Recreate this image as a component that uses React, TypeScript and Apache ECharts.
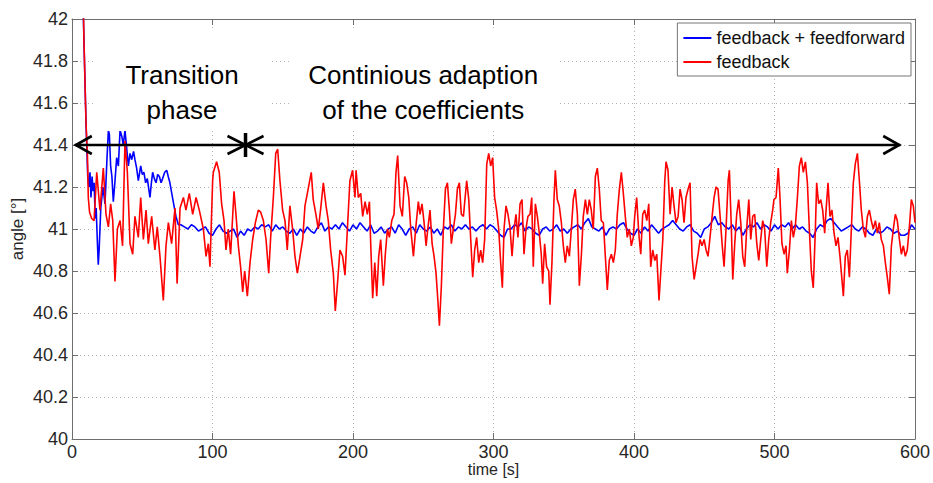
import React, { useEffect, useRef } from "react";
import * as echarts from "echarts";

// ---- data (time [s], angle [°]) ----
const feedbackData: [number, number][] = [
  [7.5, 42.3], [8.5, 41.9], [10, 41.5], [11, 41.35], [11.6, 41.15], [12.5, 41.08], [14, 41.05], [15.7, 41.04],
  [17.6, 41.27], [19.9, 41.09], [22.3, 41.29], [24.2, 41.07], [25.9, 41.01], [27.5, 41.12], [29, 41.04], [30.6, 40.75],
  [32.3, 41.0], [34.2, 41.04], [36, 40.92], [37.7, 41.42], [39.4, 41.27], [41.3, 40.93], [43.2, 40.88], [44.8, 41.06],
  [47.2, 40.96], [48.9, 41.15], [50.8, 40.95], [52.7, 41.09], [54.3, 40.93], [56.7, 41.06], [59, 40.9], [60.7, 41.01],
  [62.6, 40.87], [65, 40.66], [66.9, 40.92], [68.6, 41.03], [70.9, 40.93], [73.3, 41.1], [74.8, 40.74], [76.9, 41.1],
  [79.3, 41.15], [81.1, 41.09], [83.5, 41.17], [85.9, 41.07], [88.3, 41.15], [90.6, 41.09], [93.5, 41.0], [95.4, 40.87],
  [97, 40.93], [98.2, 40.82], [100.1, 41.23], [100.6, 41.27], [102.9, 41.32], [104.8, 41.27], [106.5, 41.12], [108.2, 41.04],
  [109.6, 40.9], [111.2, 41.0], [112.9, 40.88], [115.3, 41.18], [116.7, 41.07], [118.4, 40.92], [120, 40.82], [121.5, 40.7],
  [122.9, 40.8], [124.8, 40.68], [126.7, 40.84], [128.6, 40.95], [130.5, 41.03], [132.6, 41.09], [134.3, 41.08], [136.2, 41.04],
  [138.1, 40.95], [140, 40.79], [141.4, 40.96], [143.3, 41.15], [145, 41.36], [146.4, 41.38], [148, 41.23], [149.9, 41.09],
  [151.6, 41.04], [153.2, 40.9], [155.1, 41.11], [157, 41.0], [158.7, 40.87], [160.4, 40.79], [162.3, 40.87], [164.2, 40.95],
  [165.8, 41.11], [167.5, 41.17], [168.9, 41.22], [170.3, 41.27], [171.7, 41.14], [173.6, 41.07], [175.3, 41.0], [176.9, 41.09],
  [178.9, 41.22], [180.8, 41.11], [182.4, 41.04], [184.1, 40.9], [186, 40.79], [187.4, 40.61], [189.3, 40.77], [190.7, 40.9],
  [192.6, 40.87], [194.3, 40.78], [196, 41.0], [197.8, 41.23], [199.7, 41.28], [201.4, 41.15], [202.2, 41.28], [203.8, 41.15],
  [205.5, 41.17], [206.9, 41.06], [208.6, 41.13], [210.2, 41.07], [211.7, 41.13], [212.6, 40.93], [214, 40.67], [215.5, 40.84],
  [216.9, 40.68], [218.3, 40.87], [219.7, 40.95], [221.6, 40.73], [223, 40.88], [224.5, 41.0], [225.9, 40.96], [227.6, 41.04],
  [229.2, 41.07], [230.6, 41.27], [231.8, 41.35], [233.5, 41.11], [235.1, 41.06], [236.8, 41.25], [238.2, 41.22], [239.7, 41.15],
  [241.1, 41.0], [243, 40.87], [244.6, 41.0], [246.5, 41.13], [247.7, 41.07], [249.1, 41.12], [250.6, 41.03], [252, 40.92],
  [253.4, 41.01], [254.8, 41.09], [256.3, 40.93], [257.7, 40.87], [259.1, 40.79], [260.5, 40.65], [261.5, 40.54], [262.9, 40.73],
  [264.3, 41.0], [265.8, 41.19], [267.2, 41.22], [268.6, 41.09], [270, 40.93], [271.4, 41.0], [272.9, 41.07], [274.3, 41.19],
  [275.7, 41.22], [277.1, 41.07], [278.6, 41.06], [279.8, 41.15], [280.9, 41.23], [282.4, 41.14], [283.8, 40.95], [285.2, 40.77],
  [286.6, 40.9], [288, 40.96], [289.5, 40.84], [290.9, 40.9], [292.3, 40.84], [293.7, 40.95], [295.2, 41.31], [296.6, 41.36],
  [298, 41.3], [299.4, 41.34], [300.8, 41.15], [302.2, 41.09], [303.7, 41.0], [305.1, 40.84], [306.3, 40.72], [307.5, 41.0],
  [308.9, 41.11], [310.3, 41.07], [311.7, 41.01], [313.2, 40.87], [314.6, 41.0], [316, 41.07], [317.4, 40.96], [318.9, 41.12],
  [320.3, 41.14], [321.7, 40.88], [323.1, 41.0], [324.5, 41.06], [326, 41.07], [327.2, 41.15], [328.3, 40.82], [329.8, 41.12],
  [331.2, 41.06], [332.6, 40.98], [334, 40.88], [335, 40.74], [336.4, 40.93], [337.8, 40.82], [339.3, 40.8], [340.2, 40.64],
  [341.6, 40.84], [343.1, 41.15], [344, 41.28], [345.4, 41.14], [346.8, 41.11], [348.3, 41.03], [349.7, 40.92], [351.1, 40.84],
  [352.5, 40.92], [354, 40.87], [355.4, 41.0], [356.8, 41.14], [358.2, 41.19], [359.7, 41.07], [361.1, 40.73], [362.5, 40.87],
  [363.9, 41.06], [365.4, 41.14], [366.8, 41.07], [368.2, 41.14], [369.6, 41.09], [371, 41.0], [372.5, 41.25], [373.9, 41.29],
  [375.3, 41.19], [376.7, 41.04], [378.2, 41.03], [379.6, 40.87], [381, 40.71], [382.4, 40.85], [383.9, 40.88], [385.3, 40.84],
  [386.7, 40.9], [388.1, 41.07], [389.6, 41.19], [391, 41.27], [392.4, 41.17], [393.8, 41.06], [395.2, 40.96], [396.7, 41.0],
  [398.1, 40.92], [399.5, 40.96], [400.5, 41.06], [401.9, 41.15], [403.4, 40.98], [404.8, 40.88], [406.2, 41.07], [407.6, 41.09],
  [409.1, 41.04], [410.5, 41.12], [411.9, 40.82], [413.3, 40.9], [414.8, 40.85], [416.2, 40.88], [417.8, 40.66], [419, 40.79],
  [420.5, 40.95], [421.9, 41.23], [422.8, 41.32], [424.2, 41.28], [425.7, 41.07], [427.1, 41.2], [428.5, 41.11], [429.9, 41.03],
  [431.4, 41.06], [432.8, 41.19], [434.2, 41.14], [435.6, 41.03], [437, 41.15], [438.5, 41.19], [439.9, 41.22], [441.3, 40.87],
  [442.8, 40.76], [444.2, 40.82], [445.6, 40.88], [447, 40.95], [448.4, 40.92], [449.9, 40.95], [451.3, 40.9], [452.7, 40.87],
  [454.1, 40.96], [455.6, 41.06], [457, 41.15], [458.4, 41.2], [459.8, 41.19], [461.3, 41.06], [462.7, 40.93], [464.1, 40.82],
  [465.5, 41.0], [467, 41.23], [467.9, 41.28], [469.3, 41.0], [470.3, 40.76], [471.7, 40.93], [473.1, 41.07], [474.5, 41.14],
  [476, 41.03], [477.4, 40.87], [478.8, 40.82], [480.2, 41.0], [481.7, 41.14], [483.1, 40.95], [484.5, 41.06], [485.9, 41.07],
  [487.4, 40.93], [488.8, 40.85], [490.2, 40.95], [491.6, 41.04], [493, 41.0], [494.5, 40.82], [495.9, 40.95], [497.3, 41.03],
  [498.7, 41.09], [499.6, 41.14], [501.1, 41.15], [502.7, 41.29], [503.9, 41.15], [505.3, 40.93], [506.8, 40.88], [508.2, 40.92],
  [509.1, 40.79], [510.6, 40.9], [512, 41.04], [513.4, 40.96], [514.8, 41.01], [516.3, 41.15], [517.7, 41.3], [519.1, 41.34],
  [520.5, 41.27], [522, 41.32], [523.4, 41.22], [524.8, 41.0], [526.2, 40.8], [527.6, 40.72], [529.1, 41.0], [530, 41.22],
  [531.4, 41.12], [532.9, 41.14], [534.3, 41.09], [535.7, 40.98], [536.7, 41.09], [538.1, 41.22], [539.5, 41.06], [540.9, 41.09],
  [542.4, 40.98], [543.8, 40.92], [545.2, 40.96], [546.6, 40.87], [548, 40.76], [549, 40.68], [550.4, 40.87], [551.8, 40.9],
  [553.3, 40.77], [554.7, 41.0], [556.1, 41.22], [557.5, 41.31], [559, 41.36], [560.4, 41.23], [561.8, 41.09], [563.2, 41.0],
  [564.7, 40.96], [566.1, 41.06], [567.5, 41.09], [568.9, 41.04], [570.3, 41.0], [571.8, 41.04], [573.2, 40.98], [574.6, 41.03],
  [576, 40.95], [577.5, 40.92], [578.9, 40.84], [580.3, 40.77], [581.7, 40.69], [583.2, 40.92], [584.6, 41.0], [586, 41.07],
  [587.4, 41.04], [588.9, 40.95], [590.3, 40.88], [591.7, 40.92], [593.1, 40.87], [594.5, 40.9], [596, 41.01], [597.4, 41.14],
  [598.8, 41.11], [600, 41.03],
];

const feedforwardTransition: [number, number][] = [
  [7, 42.3], [8.5, 41.9], [10, 41.5], [11.2, 41.25], [12, 41.2], [12.8, 41.27], [13.5, 41.15], [14.3, 41.25],
  [15, 41.18], [15.8, 41.22], [16.5, 41.05], [17.2, 41.1], [18, 40.95], [18.7, 40.83], [19.3, 40.9], [20.5, 41.1],
  [22, 41.2], [23.5, 41.12], [25, 41.35], [25.9, 41.47], [26.6, 41.45], [27.5, 41.3], [28.4, 41.25], [29.4, 41.13],
  [30.5, 41.22], [31.8, 41.34], [33, 41.3], [34.2, 41.47], [35.5, 41.44], [36.5, 41.4], [37.7, 41.47], [39, 41.38],
  [40.1, 41.3], [41.3, 41.36], [42.5, 41.33], [43.8, 41.37], [44.8, 41.33], [46, 41.29], [47.2, 41.23], [48.9, 41.3],
  [50, 41.26], [51.2, 41.27], [52.4, 41.22], [53.6, 41.24], [55.5, 41.15], [56.5, 41.22], [57.4, 41.27], [58.6, 41.24],
  [59.8, 41.22], [61, 41.26], [62.2, 41.25], [63.4, 41.22], [64.5, 41.24], [66, 41.27], [67.4, 41.28], [68.5, 41.25],
  [69.7, 41.22], [71, 41.17], [72.6, 41.11], [74, 41.06], [75.7, 41.02],
];

const feedforwardSteady: [number, number][] = [
  [77.5, 41.02], [80, 41.01], [82.5, 41.0], [85, 41.02], [87.5, 41.01], [90, 40.99], [92.5, 41.0], [95, 41.01], [97.5, 40.98], [100, 40.97],
  [102.5, 41.0], [105, 41.02], [107.5, 40.99], [110, 40.98], [112.5, 40.99], [115, 41.0], [117.5, 40.96], [120, 40.99], [122.5, 40.97], [125, 41.0],
  [127.5, 40.99], [130, 41.01], [132.5, 41.0], [135, 41.02], [137.5, 41.01], [140, 41.02], [142.5, 40.99], [145, 41.02], [147.5, 41.0], [150, 41.01],
  [152.5, 40.99], [155, 40.98], [157.5, 41.0], [160, 40.97], [162.5, 41.0], [165, 40.98], [167.5, 41.01], [170, 40.99], [172.5, 40.98], [175, 41.01],
  [177.5, 41.03], [180, 40.99], [182.5, 41.01], [185, 41.0], [187.5, 41.02], [190, 41.0], [192.5, 41.03], [195, 41.01], [197.5, 40.99], [200, 41.02],
  [202.5, 41.0], [205, 41.03], [207.5, 41.01], [210, 40.99], [212.5, 41.02], [215, 40.98], [217.5, 40.99], [220, 41.01], [222.5, 40.98], [225, 41.0],
  [227.5, 41.01], [230, 40.98], [232.5, 41.02], [235, 41.0], [237.5, 40.97], [240, 41.0], [242.5, 41.01], [245, 40.98], [247.5, 41.02], [250, 41.0],
  [252.5, 40.99], [255, 41.01], [257.5, 40.98], [260, 41.0], [262.5, 40.97], [265, 41.01], [267.5, 41.0], [270, 41.02], [272.5, 40.99], [275, 41.01],
  [277.5, 41.0], [280, 41.02], [282.5, 41.0], [285, 41.01], [287.5, 40.99], [290, 41.01], [292.5, 41.02], [295, 41.0], [297.5, 41.02], [300, 41.01],
  [302.5, 40.99], [305, 40.97], [307.5, 40.96], [310, 41.0], [312.5, 41.0], [315, 41.02], [317.5, 41.01], [320, 41.03], [322.5, 40.99], [325, 41.01],
  [327.5, 41.0], [330, 40.98], [332.5, 40.97], [335, 41.0], [337.5, 41.01], [340, 40.99], [342.5, 41.0], [345, 41.02], [347.5, 40.99], [350, 41.0],
  [352.5, 40.98], [355, 41.0], [357.5, 41.01], [360, 41.02], [362.5, 41.0], [365, 41.03], [367.5, 41.05], [370, 41.01], [372.5, 41.0], [375, 40.99],
  [377.5, 41.01], [380, 40.97], [382.5, 41.0], [385, 41.01], [387.5, 41.0], [390, 41.02], [392.5, 41.03], [395, 41.0], [397.5, 40.98], [400, 40.97],
  [402.5, 41.0], [405, 40.98], [407.5, 41.01], [410, 40.99], [412.5, 41.02], [415, 41.0], [417.5, 40.98], [420, 41.0], [422.5, 41.01], [425, 41.02],
  [427.5, 41.04], [430, 41.02], [432.5, 41.0], [435, 40.99], [437.5, 41.01], [440, 41.02], [442.5, 40.99], [445, 40.98], [447.5, 40.96], [450, 41.0],
  [452.5, 41.01], [455, 41.03], [457.5, 41.06], [460, 41.02], [462.5, 41.03], [465, 41.01], [467.5, 41.0], [470, 41.02], [472.5, 40.99], [475, 41.01],
  [477.5, 40.97], [480, 41.0], [482.5, 41.02], [485, 41.01], [487.5, 41.03], [490, 41.0], [492.5, 41.02], [495, 41.01], [497.5, 40.99], [500, 41.02],
  [502.5, 41.0], [505, 41.02], [507.5, 41.01], [510, 41.03], [512.5, 41.0], [515, 41.02], [517.5, 41.0], [520, 41.01], [522.5, 40.99], [525, 40.98],
  [527.5, 40.96], [530, 41.0], [532.5, 41.02], [535, 41.01], [537.5, 41.04], [540, 41.05], [542.5, 41.03], [545, 41.01], [547.5, 40.99], [550, 41.0],
  [552.5, 41.01], [555, 41.02], [557.5, 41.0], [560, 40.99], [562.5, 41.01], [565, 41.0], [567.5, 40.98], [570, 40.97], [572.5, 41.0], [575, 40.98],
  [577.5, 40.99], [580, 41.01], [582.5, 41.0], [585, 40.98], [587.5, 40.99], [590, 40.97], [592.5, 40.97], [595, 40.98], [597.5, 41.02], [600, 41.0],
];

const seriesNames = ["feedback + feedforward", "feedback"];
const phaseLabels = ["Transition", "phase"];
const adaptionLabels = ["Continious adaption", "of the coefficients"];
const arrowLevel = 41.4;
const arrowTimes = { start: 2, split: 123.5, end: 589.5 };

const FONT = "'Liberation Sans', Arial, Helvetica, sans-serif";
const AXIS = "#6e6e6e";
const LABEL = "#262626";

export default function App() {
  const ref = useRef<HTMLDivElement>(null);

  useEffect(() => {
    document.body.style.margin = "0";
    const chart = echarts.init(ref.current!, undefined, { renderer: "svg" });
    const yFmt = (v: number) => String(Number(v.toFixed(1)));
    const option: any = {
      animation: false,
      backgroundColor: "#fff",
      textStyle: { fontFamily: FONT },
      grid: { left: 72, right: 18, top: 19, bottom: 44, containLabel: false, outerBoundsMode: "none" },
      legend: {
        orient: "vertical",
        right: 22,
        top: 23,
        backgroundColor: "#fff",
        borderColor: "#777",
        borderWidth: 1,
        borderRadius: 0,
        padding: [6, 6, 5, 6],
        itemGap: 6,
        itemWidth: 28,
        itemHeight: 2,
        textStyle: { fontSize: 18, fontFamily: FONT, color: "#111" },
        data: [
          { name: seriesNames[0], icon: "rect" },
          { name: seriesNames[1], icon: "rect" },
        ],
      },
      xAxis: [
        {
          type: "value",
          min: 0,
          max: 600,
          interval: 100,
          name: "time [s]",
          nameLocation: "middle",
          nameGap: 22,
          nameMoveOverlap: false,
          nameTextStyle: { fontSize: 16, color: LABEL, fontFamily: FONT },
          axisLine: { show: true, lineStyle: { color: AXIS, width: 1 } },
          axisTick: { show: true, inside: true, length: 6, lineStyle: { color: AXIS } },
          axisLabel: { fontSize: 18, color: LABEL, margin: 4, fontFamily: FONT },
          splitLine: { show: true, lineStyle: { color: "#b4b4b4", type: [1, 3], width: 1 } },
        },
        {
          type: "value",
          position: "top",
          min: 0,
          max: 600,
          interval: 100,
          axisLine: { show: true, onZero: false, lineStyle: { color: AXIS, width: 1 } },
          axisTick: { show: true, inside: true, length: 6, lineStyle: { color: AXIS } },
          axisLabel: { show: false },
          splitLine: { show: false },
        },
      ],
      yAxis: [
        {
          type: "value",
          min: 40,
          max: 42,
          interval: 0.2,
          name: "angle [°]",
          nameLocation: "middle",
          nameGap: 46,
          nameMoveOverlap: false,
          nameTextStyle: { fontSize: 17, color: LABEL, fontFamily: FONT },
          axisLine: { show: true, onZero: false, lineStyle: { color: AXIS, width: 1 } },
          axisTick: { show: true, inside: true, length: 6, lineStyle: { color: AXIS } },
          axisLabel: { fontSize: 18, color: LABEL, margin: 4, fontFamily: FONT, formatter: yFmt },
          splitLine: { show: true, lineStyle: { color: "#b4b4b4", type: [1, 3], width: 1 } },
        },
        {
          type: "value",
          position: "right",
          min: 40,
          max: 42,
          interval: 0.2,
          axisLine: { show: true, onZero: false, lineStyle: { color: AXIS, width: 1 } },
          axisTick: { show: true, inside: true, length: 6, lineStyle: { color: AXIS } },
          axisLabel: { show: false },
          splitLine: { show: false },
        },
      ],
      series: [
        {
          name: seriesNames[0],
          type: "line",
          data: [...feedforwardTransition, ...feedforwardSteady],
          showSymbol: false,
          symbol: "none",
          clip: true,
          color: "#0000ff",
          lineStyle: { color: "#0000ff", width: 1.6 },
          z: 2,
        },
        {
          name: seriesNames[1],
          type: "line",
          data: feedbackData,
          showSymbol: false,
          symbol: "none",
          clip: true,
          color: "#ff0000",
          lineStyle: { color: "#ff0000", width: 1.6 },
          z: 3,
        },
      ],
    };
    chart.setOption(option);

    const p = (t: number, v: number) =>
      chart.convertToPixel({ xAxisIndex: 0, yAxisIndex: 0 }, [t, v]) as number[];

    const boxTop = 41.95;
    const boxBottom = 41.467;
    const b1a = p(16.4, boxTop);
    const b1b = p(142.3, boxBottom);
    const b2a = p(155, boxTop);
    const b2b = p(347, boxBottom);

    const s = p(arrowTimes.start, arrowLevel);
    const m = p(arrowTimes.split, arrowLevel);
    const e = p(arrowTimes.end, arrowLevel);
    const y = s[1];
    const hw = 17;
    const hh = 9;
    const arrowStyle = { stroke: "#000", lineWidth: 2.6, fill: null as any };

    const tPhase1 = p(78.3, 41.734);
    const tPhase2 = p(78.3, 41.568);
    const tAd1 = p(250, 41.734);
    const tAd2 = p(250, 41.568);
    const textStyle = (text: string) => ({
      text,
      fontSize: 26,
      fontFamily: FONT,
      fill: "#000",
      align: "center",
      verticalAlign: "middle",
    });

    chart.setOption({
      graphic: [
        { type: "rect", z: 100, shape: { x: b1a[0], y: b1a[1], width: b1b[0] - b1a[0], height: b1b[1] - b1a[1] }, style: { fill: "#fff" } },
        { type: "rect", z: 100, shape: { x: b2a[0], y: b2a[1], width: b2b[0] - b2a[0], height: b2b[1] - b2a[1] }, style: { fill: "#fff" } },
        { type: "text", z: 101, x: tPhase1[0], y: tPhase1[1], style: textStyle(phaseLabels[0]) },
        { type: "text", z: 101, x: tPhase2[0], y: tPhase2[1], style: textStyle(phaseLabels[1]) },
        { type: "text", z: 101, x: tAd1[0], y: tAd1[1], style: textStyle(adaptionLabels[0]) },
        { type: "text", z: 101, x: tAd2[0], y: tAd2[1], style: textStyle(adaptionLabels[1]) },
        { type: "line", z: 102, shape: { x1: s[0], y1: y, x2: e[0], y2: y }, style: arrowStyle },
        { type: "polyline", z: 102, shape: { points: [[s[0] + hw, y - hh], [s[0] + 1, y], [s[0] + hw, y + hh]] }, style: arrowStyle },
        { type: "polyline", z: 102, shape: { points: [[m[0] - hw - 1, y - hh], [m[0], y], [m[0] - hw - 1, y + hh]] }, style: arrowStyle },
        { type: "polyline", z: 102, shape: { points: [[m[0] + hw + 1, y - hh], [m[0], y], [m[0] + hw + 1, y + hh]] }, style: arrowStyle },
        { type: "line", z: 102, shape: { x1: m[0], y1: y - 12, x2: m[0], y2: y + 12 }, style: { stroke: "#000", lineWidth: 3.5 } },
        { type: "polyline", z: 102, shape: { points: [[e[0] - hw, y - hh], [e[0] - 1, y], [e[0] - hw, y + hh]] }, style: arrowStyle },
      ],
    });

    return () => chart.dispose();
  }, []);

  return (
    <div
      ref={ref}
      style={{ position: "absolute", left: 0, top: 0, width: 933, height: 483, background: "#fff" }}
    />
  );
}
